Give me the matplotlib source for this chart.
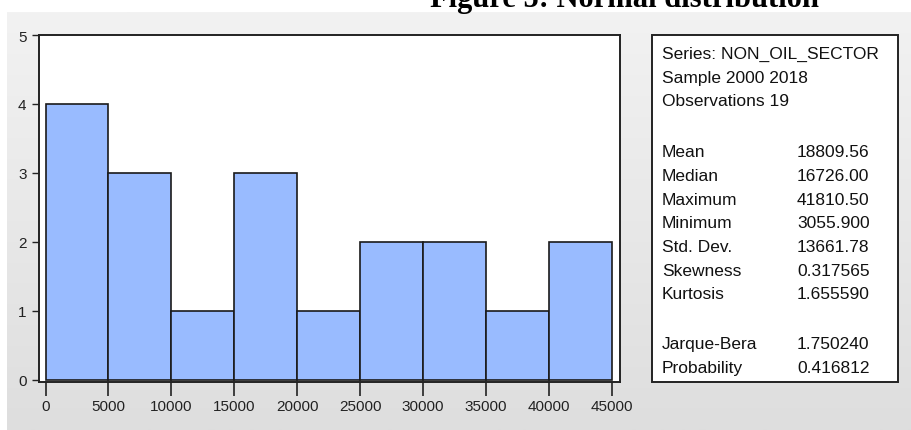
import numpy as np
import matplotlib
matplotlib.use('Agg')
import matplotlib.pyplot as plt
from matplotlib.patches import Rectangle
from matplotlib.colors import LinearSegmentedColormap

# ---- data ----
bin_edges = [0, 5000, 10000, 15000, 20000, 25000, 30000, 35000, 40000, 45000]
counts = [4, 3, 1, 3, 1, 2, 2, 1, 2]
x_ticks = [0, 5000, 10000, 15000, 20000, 25000, 30000, 35000, 40000, 45000]
y_ticks = [0, 1, 2, 3, 4, 5]
title = "Figure 5: Normal distribution"
stat_header = ["Series: NON_OIL_SECTOR", "Sample 2000 2018", "Observations 19"]
stat_names = ["Mean", "Median", "Maximum", "Minimum", "Std. Dev.", "Skewness", "Kurtosis"]
stat_values = ["18809.56", "16726.00", "41810.50", "3055.900", "13661.78", "0.317565", "1.655590"]
test_names = ["Jarque-Bera", "Probability"]
test_values = ["1.750240", "0.416812"]

W, H = 912, 431
fig = plt.figure(figsize=(W / 100, H / 100), dpi=100, facecolor='white')


def fx(px):
    return px / W


def fy(py):
    return 1 - py / H


# gray gradient panel
bg = fig.add_axes([fx(7), 0, 1 - fx(7), 1 - 13 / H], zorder=0)
grad = np.linspace(0, 1, 256).reshape(-1, 1)
cmap = LinearSegmentedColormap.from_list('bg', ['#f2f2f2', '#dedede'])
bg.imshow(grad, aspect='auto', cmap=cmap, extent=[0, 1, 1, 0])
bg.set_axis_off()

# histogram
ax = fig.add_axes([fx(39), fy(383), fx(620) - fx(39), fy(36) - fy(383)], zorder=1)
ax.set_facecolor('white')
ax.bar(bin_edges[:-1], counts, width=np.diff(bin_edges), align='edge',
       color='#99bbff', edgecolor='#1a1a1a', linewidth=1.2)
ax.set_xlim(-517, 45636)
ax.set_ylim(-0.03, 5)
ax.set_xticks(x_ticks)
ax.set_yticks(y_ticks)
for s in ax.spines.values():
    s.set_linewidth(1.4)
    s.set_color('#222222')
ax.tick_params(axis='x', direction='out', length=10, width=1.2, pad=2,
               labelsize=11, colors='#222222')
ax.tick_params(axis='y', direction='out', length=5, width=1.0, pad=4,
               labelsize=11, colors='#222222')
for lab in ax.get_xticklabels() + ax.get_yticklabels():
    lab.set_family('Liberation Sans')

# title (partially clipped at top as in the reference)
fig.text(fx(625), fy(7.5), title, ha='center', va='baseline', fontsize=22,
         fontweight='bold', family='Liberation Serif', color='black', zorder=5)

# stats box
rect = Rectangle((fx(652), fy(383)), fx(898) - fx(652), fy(36) - fy(383),
                 transform=fig.transFigure, facecolor='white', edgecolor='#222222',
                 linewidth=1.4, zorder=2)
fig.add_artist(rect)

tk = dict(fontsize=12.5, family='Liberation Sans', color='#111111', va='baseline', zorder=3)
lx, vx = 662, 797
sp = 23.6
for i, t in enumerate(stat_header):
    fig.text(fx(lx), fy(59 + sp * i), t, ha='left', **tk)
for i, (n, v) in enumerate(zip(stat_names, stat_values)):
    y = 157.5 + sp * i
    fig.text(fx(lx), fy(y), n, ha='left', **tk)
    fig.text(fx(vx), fy(y), v, ha='left', **tk)
for i, (n, v) in enumerate(zip(test_names, test_values)):
    y = 349 + sp * i
    fig.text(fx(lx), fy(y), n, ha='left', **tk)
    fig.text(fx(vx), fy(y), v, ha='left', **tk)

fig.savefig('out.png', dpi=100, facecolor='white')
